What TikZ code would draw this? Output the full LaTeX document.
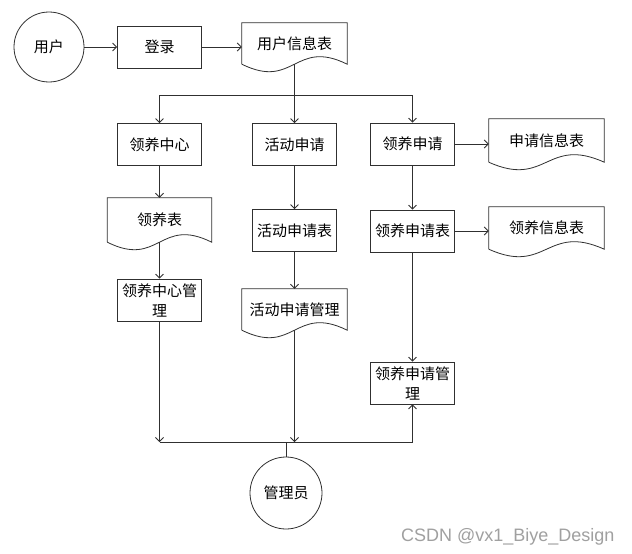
\documentclass[tikz,border=0pt]{standalone}
\usepackage{fontspec}
\newfontfamily\cjk{Noto Sans CJK SC}
\newfontfamily\wmfont{Liberation Sans}
\usetikzlibrary{arrows.meta,calc}
\definecolor{linec}{HTML}{303030}
\definecolor{wmgray}{HTML}{A0A0A0}
\tikzset{
  x=1pt, y=-1pt,
  cjktext/.style={font=\cjk\fontsize{15}{20}\selectfont, text=black},
  stepbox/.style={cjktext, draw=linec, line width=0.8pt, minimum width=84pt, minimum height=42pt, inner sep=0pt, align=center},
  roundnode/.style={cjktext, circle, draw=linec, line width=0.8pt, inner sep=0pt},
  docnode/.style={cjktext, inner sep=0pt, align=center},
  conn/.style={draw=linec, line width=0.8pt},
  arr/.style={conn, -{Straight Barb[length=4pt,width=8pt]}},
}
\newcommand\docoutline[1]{%
  \draw[conn] (#1.south west) -- (#1.north west) -- (#1.north east) -- (#1.south east)
    .. controls ($(#1.south)+(0,-26)$) and ($(#1.south)+(0,26)$) .. (#1.south west);}
\begin{document}
\begin{tikzpicture}
\useasboundingbox (0,0) rectangle (632,554);
\fill[white] (0,0) rectangle (632,554);

% row 1
\node[roundnode, minimum size=70pt] (user) at (49,47) {用户};
\node[stepbox] (login) at (159.5,47) {登录};
\node[docnode, minimum width=105pt, minimum height=41pt] (info) at (294.5,43.5) {用户信息表};
\docoutline{info}

% row 2
\node[stepbox] (zx) at (159.5,144.5) {领养中心};
\node[stepbox] (hd) at (294.5,144.5) {活动申请};
\node[stepbox] (sq) at (412.5,144) {领养申请};
\node[docnode, minimum width=115pt, minimum height=43pt] (sqxx) at (546.5,140.5) {申请信息表};
\docoutline{sqxx}

% row 3
\node[docnode, minimum width=104pt, minimum height=44pt] (zxb) at (159.5,220) {领养表};
\docoutline{zxb}
\node[stepbox] (hdb) at (294.5,230.5) {活动申请表};
\node[stepbox] (sqb) at (412.5,231) {领养申请表};
\node[docnode, minimum width=115pt, minimum height=42pt] (yxx) at (546.5,228) {领养信息表};
\docoutline{yxx}

% row 4
\node[stepbox] (zxgl) at (159.5,300) {领养中心管\\理};
\node[docnode, minimum width=105pt, minimum height=41pt] (hdgl) at (294.5,309.5) {活动申请管理};
\docoutline{hdgl}
\node[stepbox] (sqgl) at (412.5,383) {领养申请管\\理};

% admin
\node[roundnode, minimum size=72pt] (admin) at (286,493) {管理员};

% watermark
\node[anchor=base west, inner sep=0pt, font=\wmfont\fontsize{18}{18}\selectfont, text=wmgray] (wm) at (401,541) {CSDN @vx1\_Biye\_Design};

% connectors
\coordinate (topbus) at (294.5,95);
\coordinate (botbus) at (286,442);

\draw[arr] (user) -- (login);
\draw[arr] (login.east) -- (login.east -| info.west);
\draw[arr] (info.south) -- (hd.north);
\draw[arr] (topbus) -| (zx.north);
\draw[arr] (topbus) -| (sq.north);

\draw[arr] (zx.south) -- (zxb.north);
\draw[arr] (zxb.south) -- (zxgl.north);
\draw[arr] (zxgl.south) -- (zxgl.south |- botbus);

\draw[arr] (hd.south) -- (hdb.north);
\draw[arr] (hdb.south) -- (hdgl.north);
\draw[arr] (hdgl.south) -- (hdgl.south |- botbus);

\draw[arr] (sq.east) -- (sq.east -| sqxx.west);
\draw[arr] (sq.south) -- (sqb.north);
\draw[arr] (sqb.east) -- (sqb.east -| yxx.west);
\draw[arr] (sqb.south) -- (sqgl.north);

\draw[conn] (admin.north) -- (botbus);
\draw[conn] (zxgl.south |- botbus) -- (botbus);
\draw[arr] (botbus) -| (sqgl.south);
\end{tikzpicture}
\end{document}
